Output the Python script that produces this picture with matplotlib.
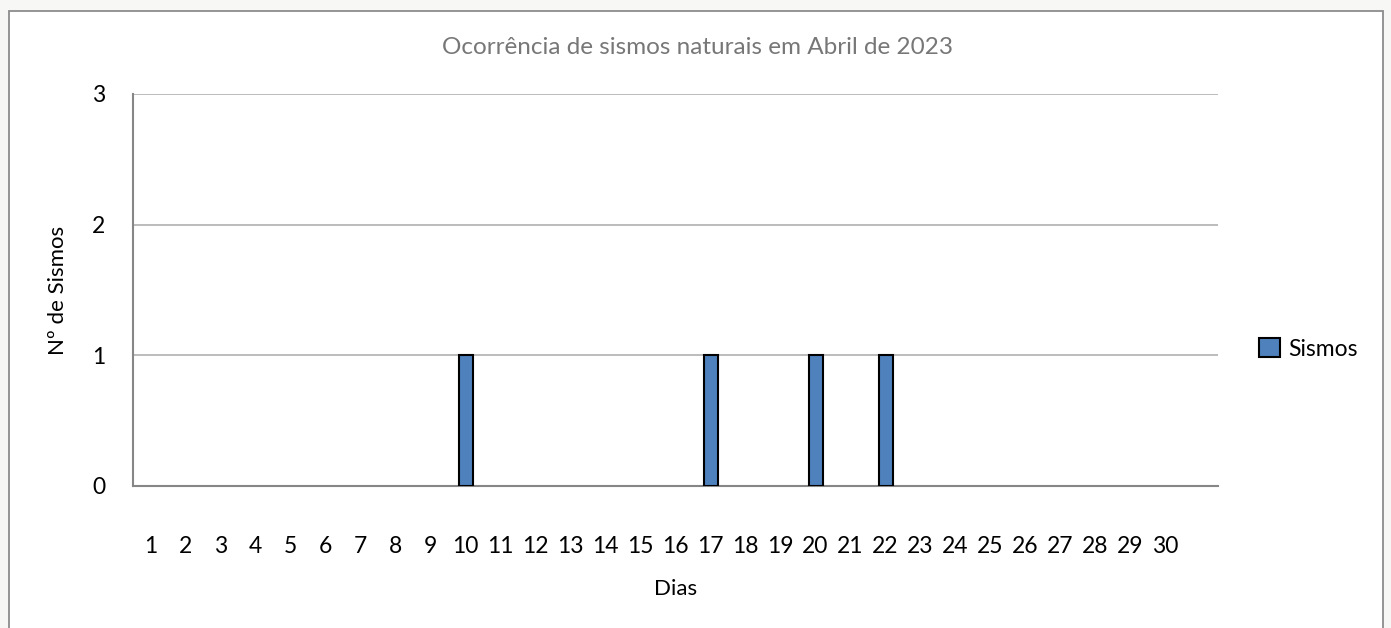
import matplotlib
matplotlib.use("Agg")
import matplotlib.pyplot as plt
import numpy as np
from matplotlib.patches import Rectangle

plt.rcParams["font.family"] = ["Lato", "DejaVu Sans"]

# Data
days = list(range(1, 31))
sismos = [0, 0, 0, 0, 0, 0, 0, 0, 0, 1,
          0, 0, 0, 0, 0, 0, 1, 0, 0, 1,
          0, 1, 0, 0, 0, 0, 0, 0, 0, 0]
y_ticks = [0, 1, 2, 3]

W, H = 1391, 628
fig = plt.figure(figsize=(W / 100, H / 100), dpi=100)
fig.patch.set_facecolor("#f7f7f5")

# chart frame (bottom edge runs past the image)
frame = Rectangle((9 / W, -0.05), (1383 - 9) / W, 1.05 - 11 / H,
                  transform=fig.transFigure, facecolor="white",
                  edgecolor="#8c8c8c", linewidth=1.3, zorder=-10)
fig.add_artist(frame)

ax = fig.add_axes([133 / W, 1 - 486 / H, (1218 - 133) / W, (486 - 94) / H])
ax.set_facecolor("white")
ax.set_zorder(1)

# zero-height bars are not drawn (Excel shows nothing there)
d = np.array(days)
v = np.array(sismos)
nz = v > 0
ax.bar(d[nz], v[nz], width=0.4, color="#4f81bd", edgecolor="black",
       linewidth=1.5, label="Sismos", zorder=3)

ax.set_xlim(0.5, 31.5)
ax.set_ylim(0, 3)
ax.set_xticks(days)
ax.set_xticklabels([str(x) for x in days])
ax.set_yticks(y_ticks)

ax.tick_params(axis="both", length=0, labelsize=16.5, colors="black")
ax.tick_params(axis="x", pad=36)
ax.tick_params(axis="y", pad=20)

ax.grid(axis="y", color="#b0b0b0", linewidth=1.2, zorder=1)
for side in ("top", "right"):
    ax.spines[side].set_visible(False)
for side in ("left", "bottom"):
    ax.spines[side].set_color("#868686")
    ax.spines[side].set_linewidth(1.5)

ax.set_xlabel("Dias", fontsize=16, labelpad=16)
ax.set_ylabel("Nº de Sismos", fontsize=16, labelpad=17)

fig.text(698 / W, 1 - 48 / H, "Ocorrência de sismos naturais em Abril de 2023",
         ha="center", va="center", fontsize=17.5, color="#777777")

leg = ax.legend(loc="center left", bbox_to_anchor=(1.038, 0.35), frameon=False,
                fontsize=16.5, handlelength=0.9, handleheight=0.9, handletextpad=0.35,
                borderpad=0, borderaxespad=0)

fig.savefig("out.png", dpi=100, facecolor=fig.get_facecolor())
